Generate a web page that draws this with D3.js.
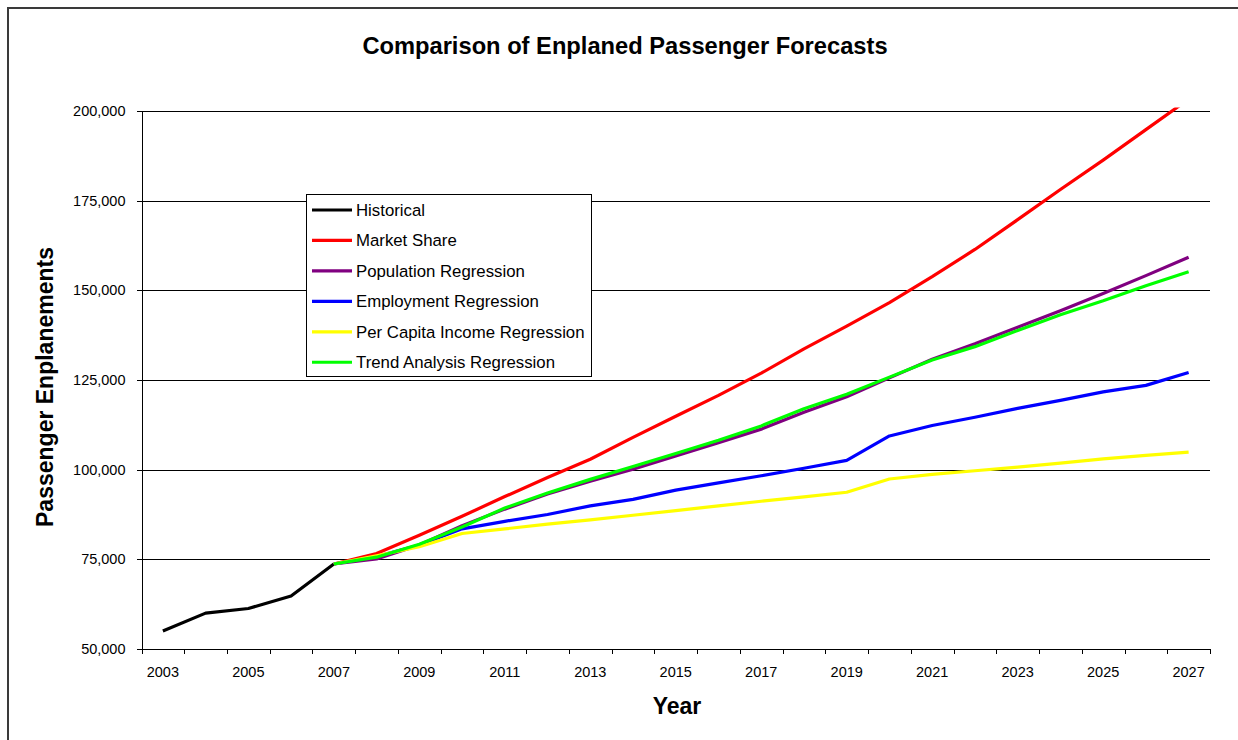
<!DOCTYPE html>
<html>
<head>
<meta charset="utf-8">
<script src="https://cdn.jsdelivr.net/npm/d3@7"></script>
<style>
  html, body { margin: 0; padding: 0; background: #fff; }
  svg { display: block; font-family: "Liberation Sans", Arial, sans-serif; }
</style>
</head>
<body>
<svg id="chart" width="1238" height="740"></svg>
<script>
// Years on the category axis
const years = d3.range(2003, 2028);
// Labelled years (every other category)
const yearLabels = years.filter(y => (y - 2003) % 2 === 0);
// Y axis tick values
const yTicks = [50000, 75000, 100000, 125000, 150000, 175000, 200000];

// Historical enplanements 2003-2007
const historical = [55000, 60000, 61300, 64800, 73700];
// Forecast series, 2007-2027
const forecastYears = d3.range(2007, 2028);
const marketShare = [73700, 76600, 81700, 87000, 92500, 97800, 102900, 109000, 114900, 120700, 126900,
  133700, 140000, 146600, 153800, 161400, 169700, 178100, 186300, 194800, 203300];
const populationReg = [73700, 75100, 79000, 84400, 89000, 93200, 96800, 100100, 103800, 107500, 111300,
  116000, 120300, 125600, 130800, 135100, 139700, 144300, 149100, 154100, 159200];
const employmentReg = [73700, 75800, 79000, 83500, 85600, 87500, 89900, 91700, 94300, 96300, 98300,
  100400, 102600, 109400, 112300, 114600, 117100, 119300, 121700, 123500, 127100];
const perCapitaReg = [73700, 76000, 78500, 82200, 83500, 84800, 86000, 87300, 88600, 89900, 91200,
  92400, 93700, 97400, 98700, 99700, 100700, 101800, 103000, 104000, 104900];
const trendReg = [73700, 75600, 79200, 84000, 89300, 93500, 97300, 100900, 104500, 108200, 112200,
  117000, 121000, 125800, 130600, 134300, 138800, 143200, 147100, 151300, 155200];

const seriesNames = ["Historical", "Market Share", "Population Regression", "Employment Regression",
  "Per Capita Income Regression", "Trend Analysis Regression"];
const seriesColors = ["#000000", "#ff0000", "#800080", "#0000ff", "#ffff00", "#00ff00"];

const series = [
  { name: seriesNames[0], color: seriesColors[0], years: d3.range(2003, 2008), values: historical },
  { name: seriesNames[1], color: seriesColors[1], years: forecastYears, values: marketShare },
  { name: seriesNames[2], color: seriesColors[2], years: forecastYears, values: populationReg },
  { name: seriesNames[3], color: seriesColors[3], years: forecastYears, values: employmentReg },
  { name: seriesNames[4], color: seriesColors[4], years: forecastYears, values: perCapitaReg },
  { name: seriesNames[5], color: seriesColors[5], years: forecastYears, values: trendReg }
];

const svg = d3.select("#chart");
const plot = { left: 141.5, right: 1210, top: 111, bottom: 649 };

// Chart frame
svg.append("rect")
  .attr("x", 8).attr("y", 8).attr("width", 1260).attr("height", 760)
  .attr("fill", "#fff").attr("stroke", "#3a3a3a").attr("stroke-width", 2);

const x = d3.scaleBand().domain(years).range([plot.left, plot.right]).padding(0);
const y = d3.scaleLinear().domain([50000, 200000]).range([plot.bottom, plot.top]);
const cx = yr => x(yr) + x.bandwidth() / 2;

// Gridlines
svg.append("g")
  .selectAll("line")
  .data(yTicks.filter(t => t > 50000))
  .join("line")
  .attr("x1", plot.left).attr("x2", plot.right)
  .attr("y1", d => Math.round(y(d)) + 0.5).attr("y2", d => Math.round(y(d)) + 0.5)
  .attr("stroke", "#000").attr("stroke-width", 1).attr("shape-rendering", "crispEdges");

// Y axis
const yAxis = d3.axisLeft(y).tickValues(yTicks).tickSize(5).tickPadding(11)
  .tickFormat(d3.format(","));
const gy = svg.append("g").attr("transform", `translate(${plot.left},0)`).call(yAxis);
gy.select(".domain").attr("stroke", "#000").attr("shape-rendering", "crispEdges");
gy.selectAll(".tick line").attr("stroke", "#000").attr("shape-rendering", "crispEdges");
gy.selectAll(".tick text").attr("font-size", "14.5px").attr("fill", "#000")
  .attr("font-family", "Liberation Sans, Arial, sans-serif");

// X axis: ticks on category boundaries, labels on alternate categories
const gx = svg.append("g").attr("transform", `translate(0,${plot.bottom})`);
gx.append("line")
  .attr("x1", plot.left).attr("x2", plot.right).attr("y1", 0.5).attr("y2", 0.5)
  .attr("stroke", "#000").attr("shape-rendering", "crispEdges");
const boundaries = years.map(yr => x(yr)).concat([plot.right]);
gx.selectAll("line.tick")
  .data(boundaries)
  .join("line")
  .attr("class", "tick")
  .attr("x1", d => Math.round(d) + 0.5).attr("x2", d => Math.round(d) + 0.5)
  .attr("y1", 0).attr("y2", 5)
  .attr("stroke", "#000").attr("shape-rendering", "crispEdges");
gx.selectAll("text")
  .data(yearLabels)
  .join("text")
  .attr("x", d => cx(d)).attr("y", 28)
  .attr("text-anchor", "middle").attr("font-size", "14.5px").text(d => d);

// Series lines, clipped to the plot area
svg.append("clipPath").attr("id", "plotClip")
  .append("rect")
  .attr("x", plot.left).attr("y", plot.top - 3.5)
  .attr("width", plot.right - plot.left).attr("height", plot.bottom - plot.top + 3.5);

const line = d3.line().x(d => cx(d[0])).y(d => y(d[1]));
svg.append("g").attr("clip-path", "url(#plotClip)")
  .selectAll("path")
  .data(series)
  .join("path")
  .attr("d", s => line(s.years.map((yr, i) => [yr, s.values[i]])))
  .attr("fill", "none")
  .attr("stroke", s => s.color)
  .attr("stroke-width", 3.2)
  .attr("stroke-linejoin", "round")
  .attr("stroke-linecap", "butt");

// Legend
const legend = svg.append("g");
legend.append("rect")
  .attr("x", 306.5).attr("y", 194.5).attr("width", 285).attr("height", 182)
  .attr("fill", "#fff").attr("stroke", "#000").attr("stroke-width", 1);
const items = legend.selectAll("g.item")
  .data(series)
  .join("g")
  .attr("class", "item")
  .attr("transform", (d, i) => `translate(0,${210 + i * 30.45})`);
items.append("line")
  .attr("x1", 312).attr("x2", 352).attr("y1", 0).attr("y2", 0)
  .attr("stroke", d => d.color).attr("stroke-width", 3.2);
items.append("text")
  .attr("x", 356).attr("y", 0).attr("dy", "0.35em")
  .attr("font-size", "16.8px").attr("fill", "#000")
  .text(d => d.name);

// Titles
svg.append("text")
  .attr("x", 625).attr("y", 54)
  .attr("text-anchor", "middle").attr("font-weight", "bold").attr("font-size", "23.7px")
  .text("Comparison of Enplaned Passenger Forecasts");
svg.append("text")
  .attr("x", 677).attr("y", 714)
  .attr("text-anchor", "middle").attr("font-weight", "bold").attr("font-size", "23px")
  .text("Year");
svg.append("text")
  .attr("transform", "translate(53,387) rotate(-90)")
  .attr("text-anchor", "middle").attr("font-weight", "bold").attr("font-size", "23px")
  .text("Passenger Enplanements");
</script>
</body>
</html>
